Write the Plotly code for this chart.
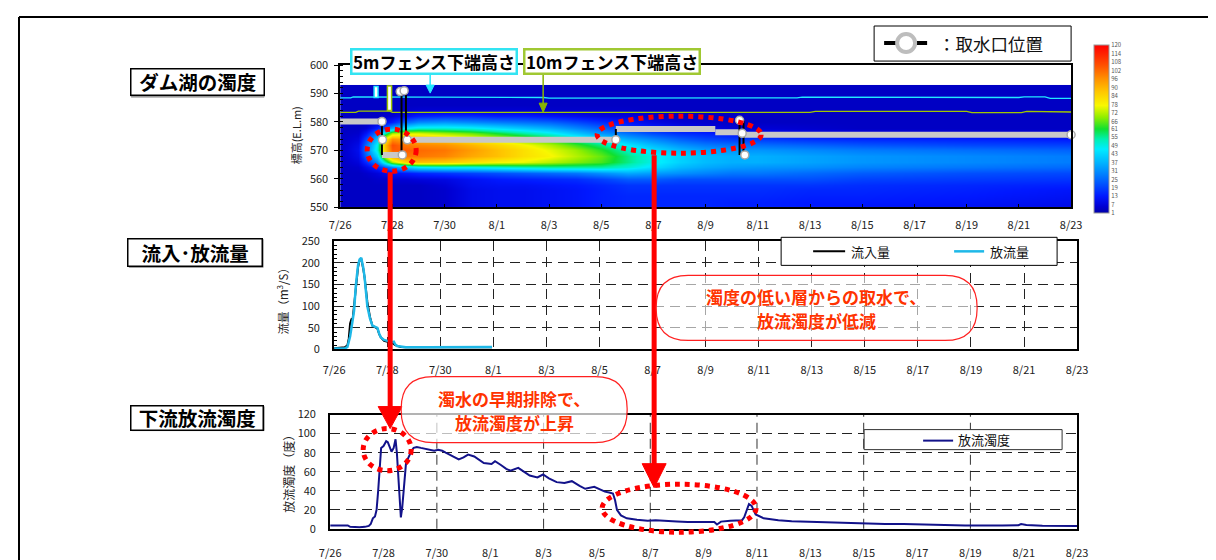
import plotly.graph_objects as go
import numpy as np

W, H = 1216, 560
FONT = "Noto Sans CJK JP"

# ---------------- data ----------------
tick_days = [0, 2, 4, 6, 8, 10, 12, 14, 16, 18, 20, 22, 24, 26, 28]
tick_labels = ["7/26", "7/28", "7/30", "8/1", "8/3", "8/5", "8/7", "8/9",
               "8/11", "8/13", "8/15", "8/17", "8/19", "8/21", "8/23"]

# reservoir turbidity (days since 7/26 0:00 x elevation EL.m)
heat_days = [0, 0.7, 1.0, 1.4, 1.7, 2.0, 2.5, 3, 4, 5, 6, 7, 8, 9, 10, 11,
             12, 13, 14, 15, 16, 18, 20, 24, 28]
heat_elev = [550, 552, 554, 556, 558, 560, 562, 564, 566, 568, 570,
             572, 574, 576, 578, 580, 582, 584, 586, 588, 590, 592]
heat_profiles = [
    [4, 4, 4, 4, 4, 4, 4, 4, 4, 4, 4, 4, 4, 4, 4, 4, 4, 4, 4, 4, 4, 4],
    [4, 4, 4, 4, 4, 4, 4, 5, 7, 9, 10, 9, 7, 5, 4, 4, 4, 4, 4, 4, 4, 4],
    [4, 4, 4, 4, 4, 4, 5, 9, 16, 24, 28, 26, 20, 12, 6, 4, 4, 4, 4, 4, 4, 4],
    [4, 4, 4, 4, 4, 5, 7, 15, 30, 42, 50, 48, 40, 28, 14, 7, 4, 4, 4, 4, 4, 4],
    [4, 4, 4, 4, 4, 5, 9, 22, 50, 72, 84, 86, 76, 50, 24, 10, 5, 4, 4, 4, 4, 4],
    [4, 4, 4, 4, 4, 6, 11, 30, 70, 94, 104, 106, 96, 70, 36, 14, 6, 4, 4, 4, 4, 4],
    [4, 4, 4, 4, 4, 6, 13, 40, 84, 100, 104, 100, 92, 74, 46, 24, 10, 5, 4, 4, 4, 4],
    [4, 4, 4, 4, 4, 7, 15, 46, 88, 100, 102, 98, 90, 74, 50, 30, 14, 6, 4, 4, 4, 4],
    [5, 5, 5, 5, 6, 8, 17, 48, 86, 98, 100, 96, 86, 70, 50, 32, 16, 6, 4, 4, 4, 4],
    [9, 9, 9, 9, 10, 11, 19, 48, 82, 92, 94, 90, 80, 66, 48, 30, 16, 6, 4, 4, 4, 4],
    [10, 10, 10, 10, 11, 13, 21, 50, 78, 88, 88, 84, 74, 60, 44, 28, 14, 6, 4, 4, 4, 4],
    [10, 10, 10, 10, 11, 14, 23, 52, 76, 82, 82, 78, 68, 54, 40, 26, 14, 6, 4, 4, 4, 4],
    [11, 11, 11, 11, 12, 15, 25, 54, 72, 78, 76, 72, 62, 48, 36, 24, 12, 5, 4, 4, 4, 4],
    [12, 12, 12, 12, 13, 16, 27, 54, 68, 72, 70, 64, 54, 40, 30, 20, 10, 5, 4, 4, 4, 4],
    [14, 14, 14, 14, 15, 19, 31, 54, 64, 66, 62, 56, 46, 32, 24, 16, 8, 5, 4, 4, 4, 4],
    [15, 15, 15, 16, 17, 23, 35, 50, 56, 56, 52, 46, 36, 26, 18, 12, 7, 5, 4, 4, 4, 4],
    [15, 15, 15, 16, 17, 23, 33, 44, 48, 48, 44, 38, 30, 20, 14, 8, 5, 4, 4, 4, 4, 4],
    [15, 15, 15, 16, 17, 21, 31, 38, 42, 42, 38, 32, 24, 16, 10, 6, 4, 4, 4, 4, 4, 4],
    [15, 15, 15, 16, 17, 21, 29, 35, 38, 38, 34, 28, 20, 14, 8, 5, 4, 4, 4, 4, 4, 4],
    [14, 14, 15, 16, 17, 21, 27, 33, 36, 36, 32, 26, 18, 12, 6, 4, 4, 4, 4, 4, 4, 4],
    [14, 14, 15, 16, 17, 21, 27, 32, 36, 36, 32, 26, 18, 10, 6, 4, 4, 4, 4, 4, 4, 4],
    [13, 13, 14, 15, 17, 21, 25, 31, 34, 34, 30, 24, 16, 8, 5, 4, 4, 4, 4, 4, 4, 4],
    [12, 13, 14, 15, 16, 19, 23, 29, 32, 32, 28, 22, 15, 7, 4, 4, 4, 4, 4, 4, 4, 4],
    [11, 12, 13, 14, 15, 18, 21, 27, 30, 30, 26, 20, 14, 6, 4, 4, 4, 4, 4, 4, 4, 4],
    [9, 10, 11, 12, 14, 17, 20, 25, 28, 28, 24, 19, 13, 6, 4, 4, 4, 4, 4, 4, 4, 4],
]
cb_ticks = [1, 7, 13, 19, 25, 31, 37, 43, 49, 55, 61, 66, 72, 78, 84, 90,
            96, 102, 108, 114, 120]

# fence bottom elevations
fence5_day = [0, 0.4, 0.5, 3.0, 3.1, 7.8, 8.0, 14.5, 14.7, 17.5, 17.7, 22.0,
              26.0, 26.2, 27.0, 27.2, 28]
fence5_elev = [588.5, 588.5, 588.8, 588.8, 588.6, 588.6, 588.4, 588.4, 588.5,
               588.5, 588.7, 588.6, 588.6, 588.8, 588.8, 588.3, 588.3]
fence10_day = [0, 0.6, 0.7, 1.9, 2.0, 18.0, 18.2, 24.0, 24.2, 26.1, 26.3, 28]
fence10_elev = [583.4, 583.4, 583.8, 583.8, 583.4, 583.4, 583.7, 583.7,
                583.3, 583.3, 583.7, 583.5]
fence5_box = [1.30, 1.45, 588.6, 592.5]     # day0, day1, elev0, elev1
fence10_box = [1.81, 1.97, 584.0, 592.6]

# intake position
intake_start = [-0.1, 1.6, 2.57, 10.56, 14.37, 15.4]
intake_end = [1.6, 2.38, 10.56, 14.37, 15.4, 28]
intake_elev = [580.2, 568.4, 573.7, 577.5, 576.4, 575.5]
conn_day = [1.6, 2.35, 2.52, 10.56, 15.3, 15.45]
conn_lo = [568.4, 568.4, 573.7, 573.7, 568.4, 568.4]
conn_hi = [580.2, 590.8, 590.8, 577.5, 580.6, 580.6]
node_day = [1.6, 1.62, 2.38, 2.3, 2.45, 2.57, 10.56, 15.3, 15.4, 15.5, 28]
node_elev = [580.2, 573.7, 568.4, 590.7, 591.0, 573.7, 573.7, 580.6, 576.0,
             568.4, 575.5]

# inflow / outflow (m3/s)
inflow_day = [0, 0.2, 0.4, 0.5, 0.55, 0.6, 0.65, 0.7, 0.75, 0.82, 0.9, 0.95,
              1.02, 1.1, 1.15, 1.25, 1.35, 1.44, 1.55, 1.63, 1.7, 1.76, 1.88,
              2.0, 2.19, 2.3, 2.37, 2.5, 2.7, 3.5, 4.5, 5.5, 5.95]
inflow = [3, 4, 5, 10, 25, 60, 70, 72, 100, 150, 190, 205, 210, 185, 165, 110,
          75, 55, 50, 48, 35, 28, 20, 18, 15, 10, 8, 6, 5, 5, 5, 5, 5]
outflow_day = [0, 0.4, 0.5, 0.6, 0.69, 0.75, 0.82, 0.9, 0.96, 1.02, 1.1, 1.15,
               1.25, 1.35, 1.44, 1.55, 1.63, 1.7, 1.76, 1.88, 2.0, 2.19, 2.25,
               2.3, 2.37, 2.55, 2.7, 3.5, 4.5, 5.5, 5.95]
outflow = [2, 2, 6, 30, 65, 90, 150, 195, 208, 212, 188, 165, 100, 72, 55, 52,
           50, 36, 28, 22, 20, 17, 18, 12, 8, 6, 5, 5, 5, 6, 6]

# downstream outflow turbidity (degree)
turb_day = [0, 0.3, 0.66, 0.75, 0.9, 1.1, 1.3, 1.38, 1.45, 1.52, 1.6, 1.68,
            1.74, 1.8, 1.86, 1.91, 2.0, 2.1, 2.16, 2.22, 2.3, 2.38, 2.45, 2.5,
            2.55, 2.6, 2.65, 2.7, 2.76, 2.84, 2.92, 2.98, 3.05, 3.13, 3.25,
            3.4, 3.62, 3.9, 4.05, 4.2, 4.33, 4.6, 4.82, 5.0, 5.17, 5.4, 5.6,
            5.76, 6.05, 6.18, 6.4, 6.6, 6.76, 7.05, 7.26, 7.48, 7.77, 7.98,
            8.2, 8.49, 8.78, 9.06, 9.35, 9.56, 9.9, 10.13, 10.3, 10.46, 10.6,
            10.68, 10.75, 10.9, 11.12, 11.5, 11.9, 12.2, 12.6, 13.0, 13.4,
            14.0, 14.4, 14.5, 14.65, 15.0, 15.44, 15.52, 15.6, 15.7, 15.8,
            15.95, 16.25, 16.8, 17.3, 17.8, 18.5, 19.3, 20.0, 20.8, 21.5,
            22.3, 23.0, 23.8, 25.2, 25.8, 25.9, 26.1, 26.7, 28]
turb = [3.5, 3.5, 3.5, 2, 1.5, 1.5, 2, 2.5, 3, 5, 11, 13, 20, 40, 70, 85, 87,
        92, 91, 86, 81, 85, 94, 80, 55, 28, 12, 22, 45, 68, 74, 78, 82, 85,
        86, 85, 84, 82, 83, 82, 80, 76, 73, 75, 78, 76, 72, 69, 68, 71, 67,
        63, 61, 64, 60, 56, 54, 57, 53, 49, 48, 50, 45, 42, 44, 41, 39, 38,
        37, 30, 20, 14, 11, 9.5, 8.5, 9, 8, 7.5, 7, 7, 7, 4.5, 7.5, 8.5, 9,
        12, 18, 26, 24, 15, 11, 9, 8, 7.5, 7, 6.5, 6, 5, 5, 4.5, 4.5, 3.5,
        3.5, 3.8, 5, 4, 3.2, 3]
panel3_grid_days = [4, 8, 12, 16, 20, 24]

# ---------------- helpers ----------------
# The viewer shows the page slightly reduced and inset; these factors map the
# reference's pixel positions to figure positions so they land in place.
SX, OX = 0.982, 9.8
SY, OY = 0.970, 9.0


def PX(x):
    return min(max(((x - OX) / SX) / W, 0.0), 1.0)


def PY(y):
    return min(max(1 - ((y - OY) / SY) / H, 0.0), 1.0)


shapes = []
annotations = []


def rect(x0, y0, x1, y1, color="black", width=1, fill="rgba(0,0,0,0)"):
    shapes.append(dict(type="rect", xref="paper", yref="paper",
                       x0=PX(x0), x1=PX(x1), y0=PY(y1), y1=PY(y0),
                       line=dict(color=color, width=width), fillcolor=fill,
                       layer="above"))


def pline(x0, y0, x1, y1, color="black", width=1, dash=None):
    ln = dict(color=color, width=width)
    if dash:
        ln["dash"] = dash
    shapes.append(dict(type="line", xref="paper", yref="paper",
                       x0=PX(x0), x1=PX(x1), y0=PY(y0), y1=PY(y1), line=ln,
                       layer="above"))


def ellipse(cx, cy, rx, ry):
    shapes.append(dict(type="circle", xref="paper", yref="paper",
                       x0=PX(cx - rx), x1=PX(cx + rx), y0=PY(cy + ry),
                       y1=PY(cy - ry),
                       line=dict(color="#FF0000", width=5, dash="dot"),
                       layer="above"))


def tri(pts, color):
    path = "M " + " L ".join(f"{PX(x):.5f},{PY(y):.5f}" for x, y in pts) + " Z"
    shapes.append(dict(type="path", xref="paper", yref="paper", path=path,
                       fillcolor=color, line=dict(color=color, width=1),
                       layer="above"))


def rounded(x0, y0, x1, y1, r, color, fill):
    def p(x, y):
        return f"{PX(x):.5f},{PY(y):.5f}"
    path = (f"M {p(x0 + r, y0)} L {p(x1 - r, y0)} Q {p(x1, y0)} {p(x1, y0 + r)} "
            f"L {p(x1, y1 - r)} Q {p(x1, y1)} {p(x1 - r, y1)} "
            f"L {p(x0 + r, y1)} Q {p(x0, y1)} {p(x0, y1 - r)} "
            f"L {p(x0, y0 + r)} Q {p(x0, y0)} {p(x0 + r, y0)} Z")
    shapes.append(dict(type="path", xref="paper", yref="paper", path=path,
                       fillcolor=fill, line=dict(color=color, width=1.2),
                       layer="above"))


def text(x, y, s, size, color="#111", xanchor="center", angle=0, **kw):
    d = dict(x=PX(x), y=PY(y), xref="paper", yref="paper", text=s,
             showarrow=False, xanchor=xanchor, yanchor="middle",
             textangle=angle, font=dict(family=FONT, size=size, color=color))
    d.update(kw)
    annotations.append(d)


def boxed(cx, cy, w, h, s, size, border, bw):
    text(cx, cy, s, size, color="black", width=w / SX - 2 * bw,
         height=h / SY - 2 * bw, bgcolor="white", bordercolor=border,
         borderwidth=bw, borderpad=0)


# ---------------- figure ----------------
fig = go.Figure()

z = np.array(heat_profiles).T.tolist()
colorscale = [
    [0.0, "#0000A8"], [0.04, "#0000D4"], [0.1, "#0018FF"], [0.2, "#0068FF"],
    [0.3, "#00B4FF"], [0.38, "#00ECFF"], [0.44, "#00F0B0"], [0.5, "#10E030"],
    [0.57, "#90EE00"], [0.64, "#F8F800"], [0.72, "#FFC800"], [0.8, "#FF9000"],
    [0.88, "#FF5000"], [0.95, "#FF2000"], [1.0, "#FF0000"],
]
fig.add_trace(go.Heatmap(
    x=heat_days, y=heat_elev, z=z, zmin=1, zmax=120, colorscale=colorscale,
    zsmooth="best", xaxis="x", yaxis="y", hoverinfo="skip",
    colorbar=dict(x=PX(1085), xanchor="left", y=PY(205), yanchor="bottom",
                  len=163 / SY, lenmode="pixels", thickness=15 / SX,
                  thicknessmode="pixels", xpad=0, ypad=0,
                  outlinecolor="#999", outlinewidth=1, tickmode="array",
                  tickvals=cb_ticks, ticks="", ticklabelposition="outside",
                  tickfont=dict(size=6, color="#555", family=FONT))))

# fence lines
fig.add_trace(go.Scatter(x=fence5_day, y=fence5_elev, mode="lines",
                         line=dict(color="#22E8FF", width=1.3),
                         xaxis="x", yaxis="y", hoverinfo="skip"))
fig.add_trace(go.Scatter(x=fence10_day, y=fence10_elev, mode="lines",
                         line=dict(color="#A0C800", width=1.3),
                         xaxis="x", yaxis="y", hoverinfo="skip"))

# intake
ix, iy = [], []
for s0, s1, e in zip(intake_start, intake_end, intake_elev):
    ix += [s0, s1, None]
    iy += [e, e, None]
fig.add_trace(go.Scatter(x=ix, y=iy, mode="lines",
                         line=dict(color="#C8C8C8", width=6),
                         xaxis="x", yaxis="y", hoverinfo="skip"))
cx_, cy_ = [], []
for d, lo, hi in zip(conn_day, conn_lo, conn_hi):
    cx_ += [d, d, None]
    cy_ += [lo, hi, None]
fig.add_trace(go.Scatter(x=cx_, y=cy_, mode="lines",
                         line=dict(color="black", width=2),
                         xaxis="x", yaxis="y", hoverinfo="skip"))
fig.add_trace(go.Scatter(x=node_day, y=node_elev, mode="markers",
                         marker=dict(color="white", size=8,
                                     line=dict(color="#A8A8A8", width=1.5)),
                         xaxis="x", yaxis="y", hoverinfo="skip",
                         cliponaxis=False))

# flows
fig.add_trace(go.Scatter(x=inflow_day, y=inflow, mode="lines", name="流入量",
                         line=dict(color="black", width=2),
                         xaxis="x2", yaxis="y2"))
fig.add_trace(go.Scatter(x=outflow_day, y=outflow, mode="lines", name="放流量",
                         line=dict(color="#1EB8E8", width=2.5),
                         xaxis="x2", yaxis="y2"))

# turbidity
fig.add_trace(go.Scatter(x=turb_day, y=turb, mode="lines", name="放流濁度",
                         line=dict(color="#12128A", width=2),
                         xaxis="x3", yaxis="y3"))

# ---------- shapes ----------
# outer frame (top and left edges only; the rest lies outside the picture)
pline(7, 9, 1216, 9, color="black", width=2)
pline(8, 8, 8, 560, color="black", width=2)

# fence boxes in reservoir
for box, col in ((fence5_box, "#22E8FF"), (fence10_box, "#A0C800")):
    shapes.append(dict(type="rect", xref="x", yref="y", x0=box[0], x1=box[1],
                       y0=box[2], y1=box[3], fillcolor="white",
                       line=dict(color=col, width=1.5), layer="above"))

# panel 3 vertical grid
for d in panel3_grid_days:
    shapes.append(dict(type="line", xref="x3", yref="y3 domain", x0=d, x1=d,
                       y0=0, y1=1, line=dict(color="#333", width=1,
                                             dash="10px,6px"),
                       layer="below"))

# red dotted ellipses
ellipse(382.5, 142, 24.5, 21)
ellipse(670, 126.5, 82, 18.5)
ellipse(378, 441, 24, 21)
ellipse(670, 499.5, 77, 24)

# red arrows
pline(381, 164, 381, 400, color="#FF0000", width=5)
tri([(369, 398), (393, 398), (381, 420)], "#FF0000")
pline(645, 147, 645, 457, color="#FF0000", width=5)
tri([(633, 455), (657, 455), (645, 479)], "#FF0000")

# fence label pointer arrows
pline(421, 66, 421, 78, color="#22E8FF", width=1.5)
tri([(417, 77), (425, 77), (421, 85)], "#22E8FF")
pline(534, 66, 534, 96, color="#88B400", width=1.5)
tri([(530, 95), (538, 95), (534, 104)], "#88B400")

# callouts
rounded(392, 368, 618, 434, 32, "#FF2020", "rgba(255,255,255,0.7)")
rounded(647, 267, 968, 332, 32, "#FF2020", "rgba(255,255,255,0.6)")

# title box shadows
for (x0, y0, x1, y1) in ((122, 62, 255, 89), (120, 231, 254, 259),
                         (123, 398, 255, 422)):
    rect(x0, y0, x1, y1, color="#999", width=1, fill="#999")

# top-right legend
rect(865, 18, 1062, 53, color="black", width=1, fill="white")
pline(875, 35, 918, 35, color="black", width=4)
shapes.append(dict(type="circle", xref="paper", yref="paper",
                   x0=PX(888), x1=PX(906), y0=PY(44), y1=PY(26),
                   fillcolor="white", line=dict(color="#BDBDBD", width=4),
                   layer="above"))

# panel 2 legend
rect(772, 229, 1048, 257, color="black", width=1, fill="white")
pline(804, 243, 836, 243, color="black", width=2)
pline(945, 243, 975, 243, color="#1EB8E8", width=2.5)

# panel 3 legend
rect(855, 421, 1053, 441, color="#333", width=1, fill="white")
pline(914, 432, 944, 432, color="#12128A", width=2)

# ---------- annotations ----------
boxed(188, 74, 133, 27, "<b>ダム湖の濁度</b>", 19.5, "black", 1.5)
boxed(186, 244, 134, 28, "<b>流入･放流量</b>", 19.5, "black", 1.5)
boxed(188, 409, 132, 25, "<b>下流放流濁度</b>", 19.5, "black", 1.5)

boxed(424.5, 53, 165, 26, "<b>5mフェンス下端高さ</b>", 17, "#33E4F2", 2.5)
boxed(602.5, 53, 175, 26, "<b>10mフェンス下端高さ</b>", 17, "#A0C832", 2.5)

text(927, 35, "：取水口位置", 17.5, xanchor="left")
text(840, 243, "流入量", 13, xanchor="left")
text(979, 243, "放流量", 13, xanchor="left")
text(947, 431, "放流濁度", 13, xanchor="left")

text(505, 390, "<b>濁水の早期排除で、</b>", 17, color="#FF3300")
text(505, 414, "<b>放流濁度が上昇</b>", 17, color="#FF3300")
text(807, 288, "<b>濁度の低い層からの取水で、</b>", 17, color="#FF3300")
text(807, 312, "<b>放流濁度が低減</b>", 17, color="#FF3300")

text(287, 127, "標高(E.L.m)", 11, color="#222", angle=-90)
text(273, 290, "流量（m<sup>3</sup>/S）", 11.5, color="#222", angle=-90)
text(279, 462, "放流濁度（度）", 12, color="#222", angle=-90)

# ---------- axes ----------
tickfont = dict(family=FONT, size=11, color="#222")
common = dict(showline=True, linecolor="black", mirror=True, zeroline=False,
              tickfont=tickfont)
grid = dict(showgrid=True, gridcolor="#222", gridwidth=1, griddash="10px,6px")

fig.update_layout(
    width=W, height=H, margin=dict(l=0, r=0, t=0, b=0),
    paper_bgcolor="white", plot_bgcolor="white", showlegend=False,
    font=dict(family=FONT),
    xaxis=dict(domain=[PX(331), PX(1062)], range=[0, 28], anchor="y",
               tickmode="array", tickvals=tick_days, ticktext=tick_labels,
               ticks="inside", ticklen=4, tickcolor="black", showgrid=False,
               linewidth=1.5, ticklabelstandoff=7, **common),
    yaxis=dict(domain=[PY(199), PY(57)], range=[550, 600], anchor="x",
               dtick=10, ticks="outside", ticklen=4, tickcolor="black",
               showgrid=False, linewidth=1.5, ticklabelstandoff=4,
               minor=dict(ticks="inside", dtick=2, ticklen=3,
                          tickcolor="black"), **common),
    xaxis2=dict(domain=[PX(325), PX(1068)], range=[0, 28], anchor="y2",
                tickmode="array", tickvals=tick_days, ticktext=tick_labels,
                ticks="", linewidth=2, ticklabelstandoff=9, **grid, **common),
    yaxis2=dict(domain=[PY(341), PY(233)], range=[0, 250], anchor="x2",
                dtick=50, ticks="", linewidth=2, ticklabelstandoff=10,
                minor=dict(ticks="inside", dtick=10, ticklen=3,
                           tickcolor="black"), **grid, **common),
    xaxis3=dict(domain=[PX(321), PX(1068)], range=[0, 28], anchor="y3",
                tickmode="array", tickvals=tick_days, ticktext=tick_labels,
                ticks="", showgrid=False, linewidth=2, ticklabelstandoff=13,
                **common),
    yaxis3=dict(domain=[PY(520), PY(406)], range=[0, 120], anchor="x3",
                dtick=20, ticks="", linewidth=2, ticklabelstandoff=10,
                **grid, **common),
    shapes=shapes, annotations=annotations,
)

fig.write_html("out.html", config={"displayModeBar": False})
